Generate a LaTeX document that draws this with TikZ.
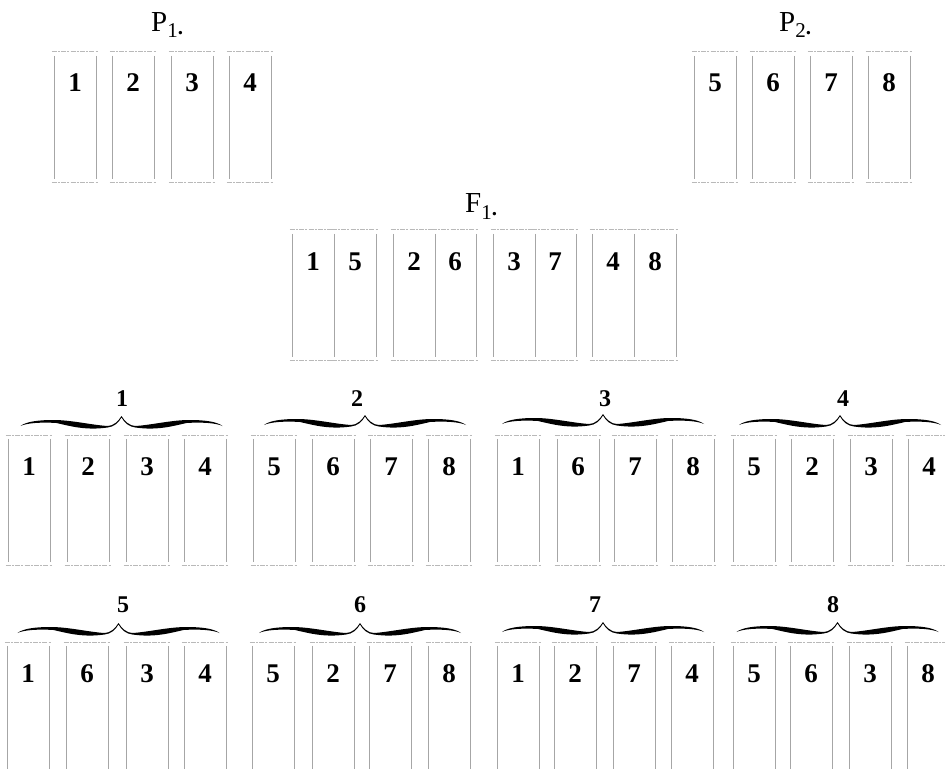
\documentclass[tikz,border=0pt]{standalone}
\usepackage{fontspec}
\setmainfont{Liberation Serif}
\tikzset{
  cellnode/.style={rectangle, inner sep=0pt, minimum width=42pt, minimum height=130pt},
  vline/.style={draw=gray!70, line width=0.6pt},
  hline/.style={draw=gray!55, line width=0.6pt, dash pattern=on 5pt off 1.2pt on 2pt off 1.2pt},
  num/.style={font=\fontsize{27}{27}\selectfont\bfseries, anchor=base, inner sep=0pt},
  glabel/.style={font=\fontsize{24}{24}\selectfont\bfseries, anchor=base, inner sep=0pt},
  title/.style={font=\fontsize{29}{29}\selectfont, anchor=base west, inner sep=0pt},
  curlybrace/.pic={
    \fill[black] (-101,1) .. controls (-96,-3) and (-85,-5) .. (-68,-5)
      .. controls (-50,-5) and (-30,0) .. (-14,1)
      .. controls (-8,1) and (-3,-4) .. (0,-9)
      .. controls (3,-4) and (8,1) .. (14,1)
      .. controls (30,0) and (50,-5) .. (68,-5)
      .. controls (85,-5) and (96,-3) .. (101,1)
      .. controls (95,-2) and (80,-3) .. (65,-2)
      .. controls (50,1.5) and (35,5.5) .. (14,2.5)
      .. controls (8,2) and (3,-2) .. (0,-7.5)
      .. controls (-3,-2) and (-8,2) .. (-14,2.5)
      .. controls (-35,5.5) and (-50,1.5) .. (-65,-2)
      .. controls (-80,-3) and (-95,-2) .. (-101,1) -- cycle;
  }
}
% cell: name, left x, top y, number
\newcommand\cellbody[4]{%
  \node[cellnode] (#1) at (#2+21,#3+65) {};
  \draw[vline] ([yshift=-4pt]#1.north east) -- ([yshift=3pt]#1.south east);
  \draw[hline] ([xshift=-2pt]#1.north west) -- ([xshift=2pt]#1.north east);
  \draw[hline] ([xshift=-2pt]#1.south west) -- ([xshift=2pt]#1.south east);
  \node[num] (#1n) at (#2+21,#3+40) {#4};
}
\newcommand\cellat[4]{%
  \cellbody{#1}{#2}{#3}{#4}
  \draw[vline] ([yshift=-4pt]#1.north west) -- ([yshift=3pt]#1.south west);
}
\newcommand\subtitle[2]{#1\raisebox{-6pt}{\fontsize{21}{21}\selectfont #2\raisebox{3pt}{\bfseries .}}}
\begin{document}
\begin{tikzpicture}[x=1pt,y=-1pt]
\useasboundingbox (0,0) rectangle (945,770);
\clip (0,0) rectangle (945,770);
\fill[white] (0,0) rectangle (945,770);
% titles
\node[title] (tP1) at (151,32) {\subtitle{P}{1}};
\node[title] (tP2) at (779,32) {\subtitle{P}{2}};
\node[title] (tF1) at (465,213) {\subtitle{F}{1}};
% P1
\cellat{pa}{54}{52}{1}
\cellat{pb}{112}{52}{2}
\cellat{pc}{171}{52}{3}
\cellat{pd}{229}{52}{4}
% P2
\cellat{qa}{694}{52}{5}
\cellat{qb}{752}{52}{6}
\cellat{qc}{810}{52}{7}
\cellat{qd}{868}{52}{8}
% F1
\cellat{fa}{292}{230}{1}
\cellbody{fb}{334}{230}{5}
\cellat{fc}{393}{230}{2}
\cellbody{fd}{434}{230}{6}
\cellat{fe}{493}{230}{3}
\cellbody{ff}{534}{230}{7}
\cellat{fg}{592}{230}{4}
\cellbody{fh}{634}{230}{8}
% row 1 groups
\pic (bra) at (121.5,425) {curlybrace};
\pic (brb) at (365,424) {curlybrace};
\pic (brc) at (603,423) {curlybrace};
\pic (brd) at (840,424) {curlybrace};
\node[glabel] (la) at (122,406) {1};
\node[glabel] (lb) at (357,406) {2};
\node[glabel] (lc) at (605,406) {3};
\node[glabel] (ld) at (843,406) {4};
\cellat{aa}{8}{435}{1}
\cellat{ab}{67}{435}{2}
\cellat{ac}{126}{435}{3}
\cellat{ad}{184}{435}{4}
\cellat{ba}{253}{435}{5}
\cellat{bb}{312}{435}{6}
\cellat{bc}{370}{435}{7}
\cellat{bd}{428}{435}{8}
\cellat{ca}{497}{435}{1}
\cellat{cb}{557}{435}{6}
\cellat{cc}{614}{435}{7}
\cellat{cd}{672}{435}{8}
\cellat{da}{733}{435}{5}
\cellat{db}{791}{435}{2}
\cellat{dc}{850}{435}{3}
\cellat{dd}{908}{435}{4}
% row 2 groups
\pic (bre) at (118.5,632) {curlybrace};
\pic (brf) at (360,632) {curlybrace};
\pic (brg) at (603,631) {curlybrace};
\pic (brh) at (837.5,631) {curlybrace};
\node[glabel] (le) at (123,612) {5};
\node[glabel] (lf) at (360,612) {6};
\node[glabel] (lg) at (595,612) {7};
\node[glabel] (lh) at (833,612) {8};
\cellat{ea}{7}{642}{1}
\cellat{eb}{66}{642}{6}
\cellat{ec}{126}{642}{3}
\cellat{ed}{184}{642}{4}
\cellat{fa2}{252}{642}{5}
\cellat{fb2}{312}{642}{2}
\cellat{fc2}{369}{642}{7}
\cellat{fd2}{428}{642}{8}
\cellat{ga}{497}{642}{1}
\cellat{gb}{554}{642}{2}
\cellat{gc}{613}{642}{7}
\cellat{gd}{671}{642}{4}
\cellat{ha}{733}{642}{5}
\cellat{hb}{790}{642}{6}
\cellat{hc}{849}{642}{3}
\cellat{hd}{907}{642}{8}
\end{tikzpicture}
\end{document}
